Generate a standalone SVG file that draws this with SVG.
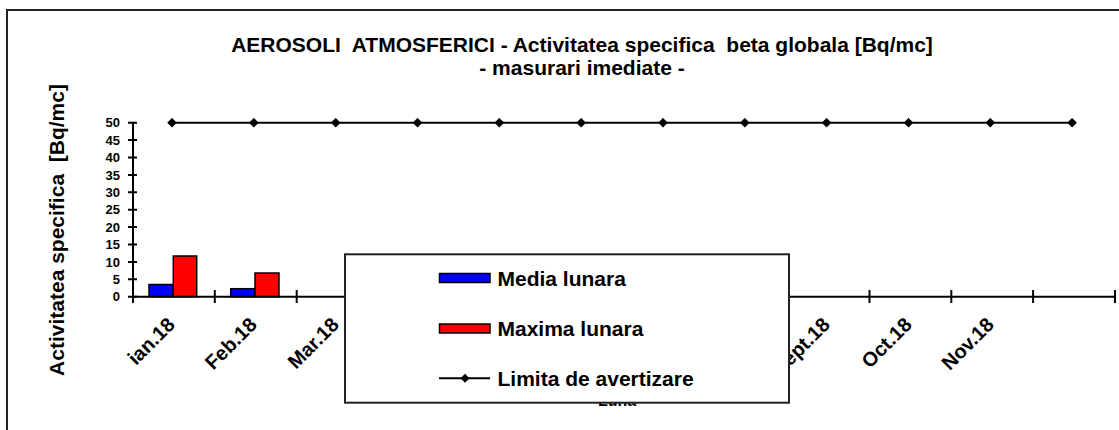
<svg xmlns="http://www.w3.org/2000/svg" width="1119" height="430" viewBox="0 0 1119 430">
<style>
text{font-family:"Liberation Sans",Arial,sans-serif;font-weight:bold;fill:#000;white-space:pre}
.title{font-size:21px}
.axt{font-size:21px}
.tick{font-size:13px;text-anchor:end}
.mon{font-size:20px;text-anchor:end}
.leg{font-size:21px}
.ax{stroke:#000;stroke-width:2;fill:none}
.bar{stroke:#000;stroke-width:1.5}
.blue{fill:#0000FF}
.red{fill:#FF0000}
.lim{stroke:#000;stroke-width:2;fill:none}
</style>
<defs>
<marker id="dia" viewBox="-5 -5 10 10" markerWidth="10" markerHeight="10" markerUnits="userSpaceOnUse" refX="0" refY="0" orient="0">
<polygon points="0,-4.8 4.8,0 0,4.8 -4.8,0" fill="#000"/>
</marker>
</defs>
<rect width="1119" height="430" fill="#fff"/>
<rect id="frame" x="7" y="10" width="1130" height="440" fill="none" stroke="#222" stroke-width="2"/>
<g id="title">
<text class="title" x="582" y="52" text-anchor="middle">AEROSOLI  ATMOSFERICI - Activitatea specifica  beta globala [Bq/mc]</text>
<text class="title" x="582" y="75" text-anchor="middle">- masurari imediate -</text>
</g>
<g id="y-axis">
<text class="axt" transform="translate(64,230) rotate(-90)" text-anchor="middle">Activitatea specifica  [Bq/mc]</text>
<path class="ax" d="M133,122.7V296.7M128,296.7H137M128,279.3H137M128,261.9H137M128,244.5H137M128,227.1H137M128,209.7H137M128,192.3H137M128,174.9H137M128,157.5H137M128,140.1H137M128,122.7H137"/>
<text class="tick" x="120" y="301.4">0</text>
<text class="tick" x="120" y="284">5</text>
<text class="tick" x="120" y="266.6">10</text>
<text class="tick" x="120" y="249.2">15</text>
<text class="tick" x="120" y="231.8">20</text>
<text class="tick" x="120" y="214.4">25</text>
<text class="tick" x="120" y="197">30</text>
<text class="tick" x="120" y="179.6">35</text>
<text class="tick" x="120" y="162.2">40</text>
<text class="tick" x="120" y="144.8">45</text>
<text class="tick" x="120" y="127.4">50</text>
</g>
<g id="bars">
<rect class="bar blue" x="149" y="284.5" width="24.3" height="12.2"/>
<rect class="bar red" x="173.3" y="256" width="23.4" height="40.7"/>
<rect class="bar blue" x="230.7" y="288.7" width="24.3" height="8"/>
<rect class="bar red" x="255" y="273" width="24" height="23.7"/>
</g>
<g id="x-axis">
<path class="ax" d="M133,296.7H1115M133,296.7V303M214.8,290V303M296.7,290V303M378.5,290V303M460.3,290V303M542.2,290V303M624,290V303M705.8,290V303M787.6,290V303M869.5,290V303M951.3,290V303M1033.1,290V303M1115,290V303"/>
<text class="mon" transform="translate(176,326) rotate(-45)">ian.18</text>
<text class="mon" transform="translate(258,326) rotate(-45)">Feb.18</text>
<text class="mon" transform="translate(340,326) rotate(-45)">Mar.18</text>
<text class="mon" transform="translate(831,326) rotate(-45)">Sept.18</text>
<text class="mon" transform="translate(913,326) rotate(-45)">Oct.18</text>
<text class="mon" transform="translate(995,326) rotate(-45)">Nov.18</text>
<text x="617" y="406" text-anchor="middle" font-size="16">Luna</text>
</g>
<g id="connectors">
<polyline class="lim" marker-start="url(#dia)" marker-mid="url(#dia)" marker-end="url(#dia)" points="172,122.7 253.8,122.7 335.7,122.7 417.5,122.7 499.3,122.7 581.2,122.7 663,122.7 744.8,122.7 826.6,122.7 908.5,122.7 990.3,122.7 1072.1,122.7"/>
</g>
<g id="legend">
<rect x="345" y="254.3" width="444" height="148.4" fill="#fff" stroke="#222" stroke-width="2"/>
<rect class="bar blue" x="439.5" y="273.5" width="50.5" height="9"/>
<text class="leg" x="497.5" y="285.7">Media lunara</text>
<rect class="bar red" x="439.5" y="324" width="50.5" height="9"/>
<text class="leg" x="497.5" y="336.3">Maxima lunara</text>
<path class="lim" d="M439,378.3H490"/>
<polygon points="465,373.8 469.5,378.3 465,382.8 460.5,378.3" fill="#000"/>
<text class="leg" x="497.5" y="385.7">Limita de avertizare</text>
</g>
</svg>
